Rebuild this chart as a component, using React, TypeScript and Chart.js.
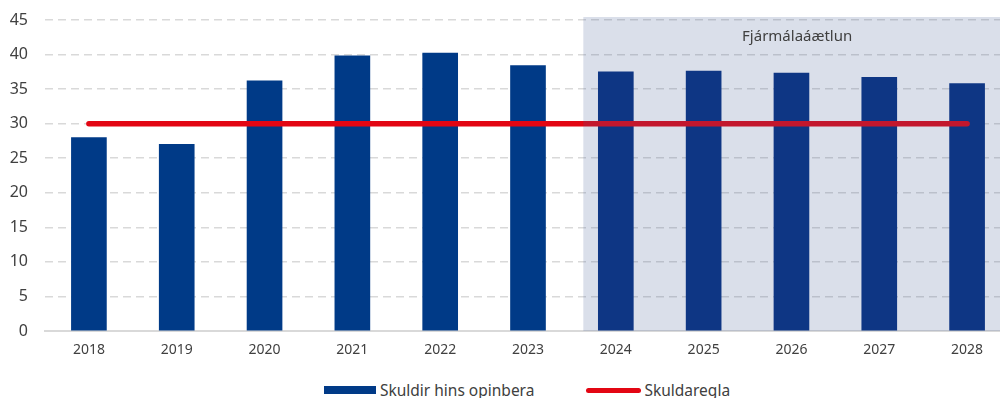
import React, { useEffect, useRef } from "react";
import { Chart, registerables } from "chart.js";

Chart.register(...registerables);

const categories = ["2018", "2019", "2020", "2021", "2022", "2023", "2024", "2025", "2026", "2027", "2028"];
const debtValues = [28.0, 27.0, 36.2, 39.8, 40.2, 38.4, 37.5, 37.6, 37.3, 36.7, 35.8];
const debtRuleValues = [30, 30, 30, 30, 30, 30, 30, 30, 30, 30, 30];
const debtLabel = "Skuldir hins opinbera";
const ruleLabel = "Skuldaregla";
const planLabel = "Fjármálaáætlun";
const planStart = 5.63; // category position where the plan period shading begins
const yTickStep = 5;
const yMax = 45.43;

const FONT = '"Noto Sans", sans-serif';
const TEXT = "#404040";
const BLUE = "#003a87";
const BLUE_UNDER_SHADE = "#002c80";
const RED = "#e30613";

const shadePlugin = {
  id: "planShade",
  afterDatasetsDraw(chart: any) {
    const { ctx, chartArea, scales } = chart;
    const x0 = scales.x.getPixelForValue(planStart);
    const x1 = chartArea.right;
    ctx.save();
    ctx.fillStyle = "rgba(68,94,150,0.2)";
    ctx.fillRect(x0, chartArea.top, x1 - x0, chartArea.bottom - chartArea.top);
    ctx.fillStyle = TEXT;
    ctx.font = `15px ${FONT}`;
    ctx.textAlign = "center";
    ctx.textBaseline = "middle";
    ctx.fillText(planLabel, (x0 + x1) / 2, chartArea.top + 20);
    ctx.restore();
  },
};

export default function App() {
  const ref = useRef<HTMLCanvasElement>(null);
  useEffect(() => {
    if (!ref.current) return;
    const chart = new Chart(ref.current, {
      type: "bar",
      data: {
        labels: categories,
        datasets: [
          {
            type: "line",
            label: ruleLabel,
            data: debtRuleValues,
            borderColor: RED,
            backgroundColor: RED,
            borderWidth: 5.5,
            borderCapStyle: "round",
            pointRadius: 0,
            order: 0,
          } as any,
          {
            type: "bar",
            label: debtLabel,
            data: debtValues,
            backgroundColor: categories.map((_, i) => (i > planStart ? BLUE_UNDER_SHADE : BLUE)),
            barThickness: 35,
            order: 1,
          },
        ],
      },
      options: {
        responsive: false,
        animation: false,
        layout: { padding: { left: 0, right: 59, top: 17, bottom: 0 } },
        plugins: {
          legend: { display: false },
          tooltip: { enabled: false },
        },
        scales: {
          x: {
            type: "category",
            offset: true,
            grid: { display: false, drawTicks: false },
            border: { display: true, color: "#d9d9d9", width: 2 },
            ticks: { color: TEXT, font: { family: FONT, size: 14 }, padding: 11, maxRotation: 0 },
            afterFit(scale: any) {
              scale.height = 34;
            },
          },
          y: {
            min: 0,
            max: yMax,
            grid: {
              color: "#d9d9d9",
              lineWidth: 1.5,
              drawTicks: true,
              tickLength: 17,
              tickColor: "rgba(0,0,0,0)",
            },
            border: { display: false, dash: [8, 5] },
            ticks: {
              stepSize: yTickStep,
              includeBounds: false,
              color: TEXT,
              font: { family: FONT, size: 16 },
              padding: 0,
            },
            afterFit(scale: any) {
              scale.width = 45;
            },
          },
        },
      },
      plugins: [shadePlugin],
    });
    return () => chart.destroy();
  }, []);

  return (
    <div
      style={{
        position: "absolute",
        left: 0,
        top: 0,
        width: 1000,
        height: 398,
        overflow: "hidden",
        background: "#fff",
        fontFamily: FONT,
      }}
    >
      <div style={{ width: 1054 }}>
        <canvas ref={ref} width={1070} height={365} style={{ display: "block" }} />
        <div
          style={{
            marginTop: 15,
            height: 20,
            display: "flex",
            justifyContent: "center",
            alignItems: "center",
            color: TEXT,
            fontSize: 15.5,
          }}
        >
          <span style={{ display: "inline-block", width: 52, height: 8, background: BLUE, marginRight: 4 }} />
          <span>{debtLabel}</span>
          <span
            style={{
              display: "inline-block",
              width: 55,
              height: 5,
              borderRadius: 3,
              background: RED,
              marginLeft: 52,
              marginRight: 3,
            }}
          />
          <span>{ruleLabel}</span>
        </div>
      </div>
    </div>
  );
}
